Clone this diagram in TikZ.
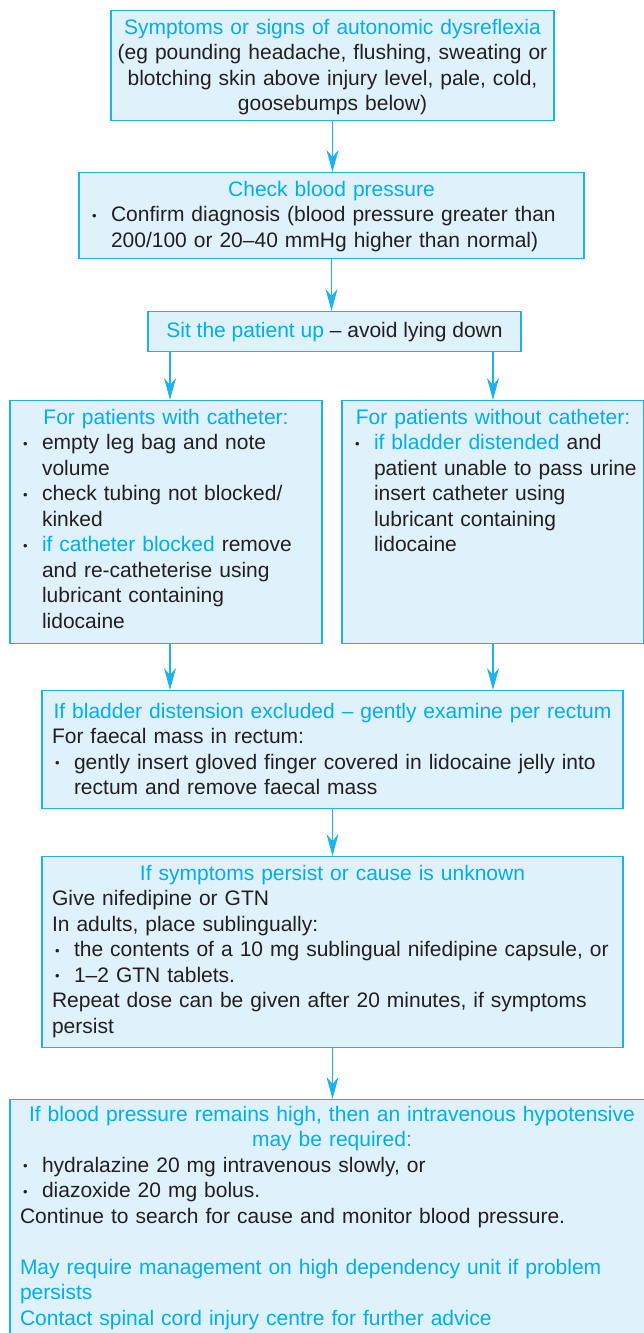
\documentclass[tikz,border=0pt]{standalone}
\usepackage{fontspec}
\setmainfont{Liberation Sans}
\usepackage{xcolor}
\usetikzlibrary{arrows.meta}

\definecolor{adblue}{RGB}{0,173,238}
\definecolor{adline}{RGB}{30,178,236}
\definecolor{adfill}{RGB}{223,242,251}
\definecolor{adtext}{RGB}{35,31,32}

% one line of a box: centred, blue heading, plain, bullet, continued bullet
\newcommand{\cln}[1]{\noindent\makebox[\linewidth]{#1}\par}
\newcommand{\hd}[1]{\cln{\color{adblue}#1}}
\newcommand{\tl}[1]{\par\noindent\mbox{#1}}
\newcommand{\bl}[1]{\par\noindent\makebox[22pt][l]{\hspace{3pt}\raisebox{1.5pt}{\fontsize{13}{13}\selectfont\textbullet}}\mbox{#1}}
\newcommand{\cl}[1]{\par\noindent\hspace*{22pt}\mbox{#1}}

\begin{document}
\begin{tikzpicture}[x=1pt, y=-1pt,
    adbox/.style={draw=adline, line width=1.3pt, fill=adfill, anchor=north,
        inner xsep=10pt, inner ysep=8pt, align=left, text height=15.5pt,
        text=adtext, font=\fontsize{21}{25.5}\selectfont},
    sitbox/.style={adbox, align=center, inner sep=0pt, minimum width=373pt,
        minimum height=40pt, text depth=4.5pt},
    arr/.style={draw=adline, line width=1.4pt, -{Stealth[length=22pt,width=12pt,inset=7pt]}}]
    \useasboundingbox (0,0) rectangle (644,1333);
    \clip (0,0) rectangle (644,1333);

    % Define nodes
    \node[adbox, inner xsep=2pt, text width=439pt, text depth=78.5pt] (symp) at (332.5,10)
        {\hd{Symptoms or signs of autonomic dysreflexia}%
         \cln{(eg pounding headache, flushing, sweating or}%
         \cln{blotching skin above injury level, pale, cold,}%
         \cln{goosebumps below)}};
    \node[adbox, text width=485pt, text depth=54.5pt] (check) at (331.5,172)
        {\hd{Check blood pressure}%
         \bl{Confirm diagnosis (blood pressure greater than}
         \cl{200/100 or 20–40 mmHg higher than normal)}};
    \node[sitbox] (sit) at (334.5,311)
        {\textcolor{adblue}{Sit the patient up} – avoid lying down};

    \node[adbox, text width=292pt, text depth=211.5pt] (cath) at (166,400)
        {\hd{For patients with catheter:}%
         \bl{empty leg bag and note}
         \cl{volume}
         \bl{check tubing not blocked/}
         \cl{kinked}
         \bl{\textcolor{adblue}{if catheter blocked} remove}
         \cl{and re-catheterise using}
         \cl{lubricant containing}
         \cl{lidocaine}};
    \node[adbox, text width=282pt, text depth=211.5pt] (nocath) at (493,400)
        {\hd{For patients without catheter:}%
         \bl{\textcolor{adblue}{if bladder distended} and}
         \cl{patient unable to pass urine}
         \cl{insert catheter using}
         \cl{lubricant containing}
         \cl{lidocaine}};

    \node[adbox, text width=561pt, text height=19.5pt, text depth=82.5pt] (rect) at (332.5,690)
        {\hd{If bladder distension excluded – gently examine per rectum}%
         \tl{For faecal mass in rectum:}
         \bl{gently insert gloved finger covered in lidocaine jelly into}
         \cl{rectum and remove faecal mass}};
    \node[adbox, text width=561pt, text depth=159.5pt] (pers) at (332.5,856)
        {\hd{If symptoms persist or cause is unknown}%
         \tl{Give nifedipine or GTN}
         \tl{In adults, place sublingually:}
         \bl{the contents of a 10 mg sublingual nifedipine capsule, or}
         \bl{1–2 GTN tablets.}
         \tl{Repeat dose can be given after 20 minutes, if symptoms}
         \tl{persist}};
    \node[adbox, text width=624pt, text height=13.5pt, text depth=240pt] (iv) at (332,1099)
        {\hd{If blood pressure remains high, then an intravenous hypotensive}%
         \hd{may be required:}%
         \bl{hydralazine 20 mg intravenous slowly, or}
         \bl{diazoxide 20 mg bolus.}
         \tl{Continue to search for cause and monitor blood pressure.}
         \tl{}
         \tl{\color{adblue}May require management on high dependency unit if problem}
         \tl{\color{adblue}persists}
         \tl{\color{adblue}Contact spinal cord injury centre for further advice}};

    % Draw arrows
    \draw[arr] (symp.south) -- (symp.south |- check.north);
    \draw[arr] (check.south) -- (check.south |- sit.north);
    \draw[arr] ([xshift=4pt]cath.north |- sit.south) -- ([xshift=4pt]cath.north);
    \draw[arr] (nocath.north |- sit.south) -- (nocath.north);
    \draw[arr] ([xshift=4pt]cath.south) -- ([xshift=4pt]cath.south |- rect.north);
    \draw[arr] (nocath.south) -- (nocath.south |- rect.north);
    \draw[arr] (rect.south) -- (pers.north);
    \draw[arr] (pers.south) -- (pers.south |- iv.north);
\end{tikzpicture}
\end{document}
